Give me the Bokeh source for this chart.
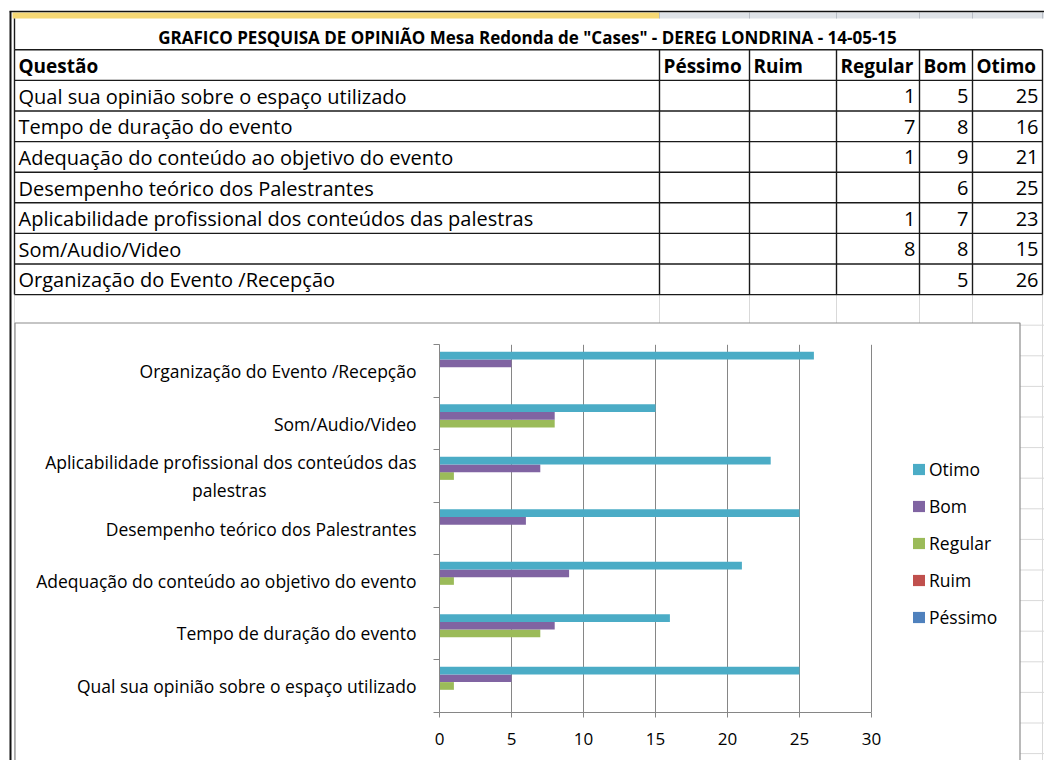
from bokeh.plotting import figure
from bokeh.models import (Range1d, FixedTicker, Legend, LegendItem, ColumnDataSource,
                          LinearAxis)
from bokeh.transform import dodge
from bokeh.core.properties import value
from bokeh.embed import file_html
from bokeh.resources import INLINE

# ---------------- data ----------------
TITLE = 'GRAFICO PESQUISA DE OPINIÃO Mesa Redonda de "Cases" - DEREG LONDRINA - 14-05-15'
HEADER_Q = "Questão"
SERIES = ["Péssimo", "Ruim", "Regular", "Bom", "Otimo"]
QUESTIONS = [
    "Qual sua opinião sobre o espaço utilizado",
    "Tempo de duração do evento",
    "Adequação do conteúdo ao objetivo do evento",
    "Desempenho teórico dos Palestrantes",
    "Aplicabilidade profissional dos conteúdos das palestras",
    "Som/Audio/Video",
    "Organização do Evento /Recepção",
]
CHART_LABELS = [
    "Qual sua opinião sobre o espaço utilizado",
    "Tempo de duração do evento",
    "Adequação do conteúdo ao objetivo do evento",
    "Desempenho teórico dos Palestrantes",
    "Aplicabilidade profissional dos conteúdos das\npalestras",
    "Som/Audio/Video",
    "Organização do Evento /Recepção",
]
PESSIMO = [None, None, None, None, None, None, None]
RUIM = [None, None, None, None, None, None, None]
REGULAR = [1, 7, 1, None, 1, 8, None]
BOM = [5, 8, 9, 6, 7, 8, 5]
OTIMO = [25, 16, 21, 25, 23, 15, 26]
X_TICKS = [0, 5, 10, 15, 20, 25, 30]
COLORS = {"Péssimo": "#4F81BD", "Ruim": "#C0504D", "Regular": "#9BBB59",
          "Bom": "#8064A2", "Otimo": "#4BACC6"}
VALUES = {"Péssimo": PESSIMO, "Ruim": RUIM, "Regular": REGULAR, "Bom": BOM, "Otimo": OTIMO}

# ---------------- layout constants (pixels) ----------------
W, H = 1044, 760
FONT = "Open Sans"
COL_X = [14, 659, 749, 836, 919, 972, 1042]
ROW_TOP = 49.3
ROW_H = 30.6
N_ROWS = 1 + len(QUESTIONS)
GRID_LIGHT = "#d9d9d9"
AXIS_GRAY = "#868686"
BOX = (14.5, 1019.5, 322.5)          # chart box left, right, top
PLOT_L, PLOT_R, PLOT_T, PLOT_B = 439, 871, 344.3, 711.7
NBSP_PAD = 33                         # centres the wrapped second label line
LEG_X, LEG_BOTTOM = 911, 629

xs = (PLOT_R - PLOT_L) / X_TICKS[-1]
ys = (PLOT_B - PLOT_T) / len(QUESTIONS)

p = figure(width=W, height=H,
           x_range=Range1d(-PLOT_L / xs, (W - PLOT_L) / xs),
           y_range=Range1d(-(H - PLOT_B) / ys, len(QUESTIONS) + PLOT_T / ys),
           toolbar_location=None, output_backend="svg", x_axis_location=None,
           y_axis_location=None, min_border=0, outline_line_color=None)
p.extra_x_ranges = {"px": Range1d(0, W)}
p.extra_y_ranges = {"px": Range1d(H, 0)}
for g in p.grid:
    g.visible = False
PX = dict(x_range_name="px", y_range_name="px")

# ---------------- spreadsheet background ----------------
p.quad(left=[12], right=[COL_X[1]], top=[12], bottom=[18], fill_color="#f6d874",
       line_color=None, **PX)
p.quad(left=[COL_X[1]], right=[W], top=[12], bottom=[18], fill_color="#dfe3e8",
       line_color=None, **PX)
p.segment(x0=COL_X[1:], x1=COL_X[1:], y0=[12] * 6, y1=[18] * 6, line_color="#b9bec6",
          line_width=1, **PX)
p.segment(x0=[9], x1=[W], y0=[11], y1=[11], line_color="#111111", line_width=1.5, **PX)
p.segment(x0=[10], x1=[10], y0=[11], y1=[H], line_color="#111111", line_width=2, **PX)

last = ROW_TOP + N_ROWS * ROW_H
p.segment(x0=COL_X, x1=COL_X, y0=[last] * len(COL_X), y1=[H] * len(COL_X),
          line_color=GRID_LIGHT, line_width=1, **PX)
sheet_rows = []
yy = last + ROW_H
while yy < H:
    sheet_rows.append(yy)
    yy += ROW_H
p.segment(x0=[BOX[1]] * len(sheet_rows), x1=[W] * len(sheet_rows), y0=sheet_rows, y1=sheet_rows,
          line_color=GRID_LIGHT, line_width=1, **PX)

# ---------------- table ----------------
row_lines = [ROW_TOP + k * ROW_H for k in range(N_ROWS + 1)]
p.segment(x0=[COL_X[0]] * len(row_lines), x1=[COL_X[-1]] * len(row_lines),
          y0=row_lines, y1=row_lines, line_color="#1a1a1a", line_width=1.4, **PX)
p.segment(x0=COL_X, x1=COL_X, y0=[ROW_TOP] * len(COL_X), y1=[last] * len(COL_X),
          line_color="#1a1a1a", line_width=1.4, **PX)
p.segment(x0=[COL_X[0]], x1=[COL_X[0]], y0=[18], y1=[ROW_TOP], line_color="#1a1a1a",
          line_width=1.4, **PX)

p.text(x=[527], y=[37], text=[TITLE], text_font=value(FONT), text_font_style="bold",
       text_font_size="17px", text_align="center", text_baseline="middle",
       text_color="#000000", **PX)

centers = [ROW_TOP + (k + 0.5) * ROW_H + 0.5 for k in range(N_ROWS)]
p.text(x=[COL_X[0] + 4] + [cx + 4 for cx in COL_X[1:6]], y=[centers[0]] * 6,
       text=[HEADER_Q] + SERIES, text_font=value(FONT), text_font_style="bold",
       text_font_size="19px", text_align="left", text_baseline="middle",
       text_color="#000000", **PX)
p.text(x=[COL_X[0] + 4] * len(QUESTIONS), y=centers[1:], text=QUESTIONS,
       text_font=value(FONT), text_font_size="20px", text_align="left",
       text_baseline="middle", text_color="#000000", **PX)
for i, s in enumerate(SERIES):
    vals = VALUES[s]
    txt = ["" if v is None else str(v) for v in vals]
    p.text(x=[COL_X[i + 2] - 4] * len(vals), y=centers[1:], text=txt,
           text_font=value(FONT), text_font_size="20px", text_align="right",
           text_baseline="middle", text_color="#000000", **PX)

# ---------------- chart box ----------------
p.quad(left=[BOX[0]], right=[BOX[1]], top=[BOX[2]], bottom=[H + 20], fill_color="#ffffff",
       line_color="#8c8c8c", line_width=1.2, **PX)

# ---------------- chart ----------------
nq = len(QUESTIONS)
ypos = [i + 0.5 for i in range(nq)]
p.segment(x0=X_TICKS, x1=X_TICKS, y0=[0] * len(X_TICKS), y1=[nq] * len(X_TICKS),
          line_color=AXIS_GRAY, line_width=1)

BAR_H = 0.1467
renderers = {}
for k, s in enumerate(SERIES):
    vals = [float("nan") if v is None else v for v in VALUES[s]]
    src = ColumnDataSource(dict(y=ypos, v=vals))
    renderers[s] = p.hbar(y=dodge("y", (k - 2) * BAR_H), left=0, right="v", height=BAR_H,
                          source=src, fill_color=COLORS[s], line_color=None)

xaxis = LinearAxis(fixed_location=0, bounds=(X_TICKS[0], X_TICKS[-1]),
                   ticker=FixedTicker(ticks=X_TICKS))
xaxis.axis_line_color = AXIS_GRAY
xaxis.major_tick_line_color = AXIS_GRAY
xaxis.major_tick_out = 5
xaxis.major_tick_in = 0
xaxis.minor_tick_line_color = None
xaxis.major_label_text_font = FONT
xaxis.major_label_text_font_size = "17px"
xaxis.major_label_text_color = "#000000"
xaxis.major_label_standoff = 16
p.add_layout(xaxis, "below")


def centre_wrapped(lab):
    if "\n" in lab:
        a, b = lab.split("\n")
        return a + "\n" + b + "\u00a0" * NBSP_PAD
    return lab


yaxis = LinearAxis(fixed_location=0, bounds=(0, nq),
                   ticker=FixedTicker(ticks=ypos, minor_ticks=list(range(nq + 1))))
yaxis.major_label_overrides = {y: centre_wrapped(lab) for y, lab in zip(ypos, CHART_LABELS)}
yaxis.axis_line_color = AXIS_GRAY
yaxis.major_tick_line_color = None
yaxis.major_tick_out = 0
yaxis.major_tick_in = 0
yaxis.minor_tick_line_color = AXIS_GRAY
yaxis.minor_tick_out = 6
yaxis.minor_tick_in = 0
yaxis.major_label_standoff = 17
yaxis.major_label_text_font = FONT
yaxis.major_label_text_font_size = "17.5px"
yaxis.major_label_text_color = "#000000"
p.add_layout(yaxis, "left")

legend = Legend(items=[LegendItem(label=s, renderers=[renderers[s]]) for s in reversed(SERIES)],
                location=(LEG_X, H - LEG_BOTTOM), orientation="vertical",
                glyph_width=15, glyph_height=14, label_standoff=3,
                label_text_font=FONT, label_text_font_size="17.5px",
                label_text_color="#000000", label_height=24, spacing=13, padding=0, margin=0,
                border_line_color=None, background_fill_alpha=0)
p.add_layout(legend, "center")

open("out.html", "w").write(file_html(p, INLINE))
